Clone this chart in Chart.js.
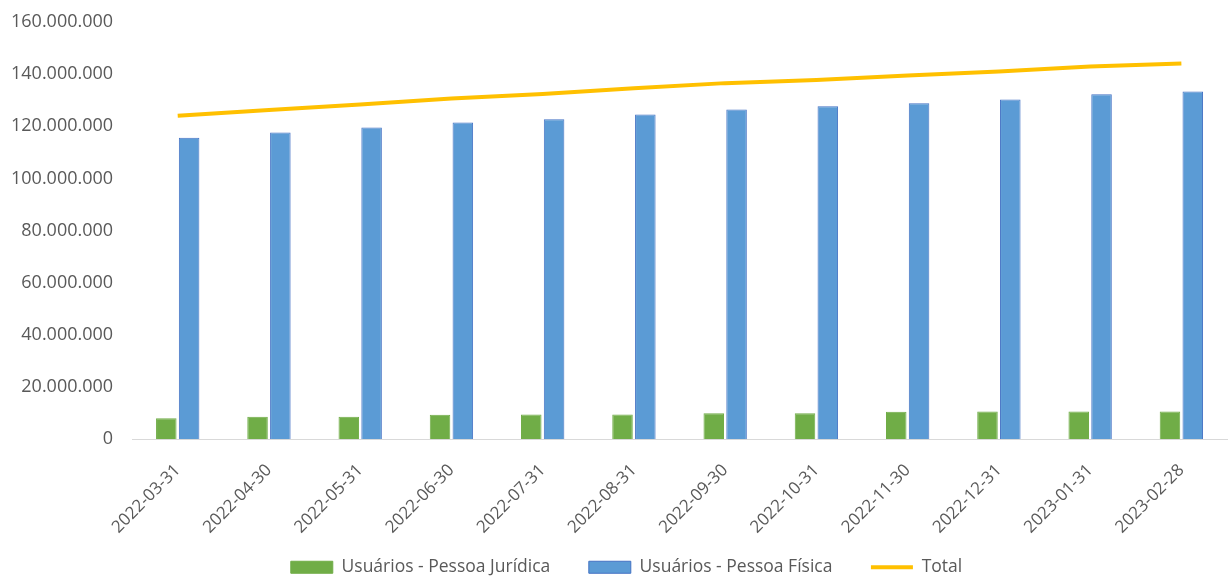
<!DOCTYPE html>
<html lang="pt-BR">
<head>
<meta charset="utf-8">
<title>Usuários</title>
<script src="https://cdn.jsdelivr.net/npm/chart.js@4.4.1/dist/chart.umd.min.js"></script>
<style>
  html, body { margin: 0; padding: 0; background: #fff; }
  #wrap { width: 1229px; height: 582px; position: relative; }
</style>
</head>
<body>
<div id="wrap"><canvas id="chart"></canvas></div>
<script>
// Monthly user counts
const months = [
  '2022-03-31', '2022-04-30', '2022-05-31', '2022-06-30', '2022-07-31', '2022-08-31',
  '2022-09-30', '2022-10-31', '2022-11-30', '2022-12-31', '2023-01-31', '2023-02-28',
];
const pessoaJuridica = [
  8100000, 8700000, 8700000, 9400000, 9500000, 9500000,
  10000000, 10000000, 10600000, 10700000, 10700000, 10700000,
];
const pessoaFisica = [
  115600000, 117600000, 119500000, 121400000, 122700000, 124500000,
  126400000, 127600000, 128800000, 130200000, 132200000, 133300000,
];
const total = [
  124000000, 126200000, 128300000, 130600000, 132300000, 134500000,
  136500000, 137700000, 139400000, 141000000, 142900000, 144000000,
];
const yTicks = [0, 20000000, 40000000, 60000000, 80000000, 100000000, 120000000, 140000000, 160000000];

const FONT = "'Open Sans', 'Liberation Sans', sans-serif";
const GREY = '#595959';

// 160000000 -> "160.000.000"
function fmtBR(v) {
  return String(Math.round(v)).replace(/\B(?=(\d{3})+(?!\d))/g, '.');
}

// nudge the centred legend row a little to the right, like the original
const legendShift = {
  id: 'legendShift',
  afterLayout(chart) {
    if (chart.legend) chart.legend.left += 26;
  },
};

new Chart(document.getElementById('chart'), {
  data: {
    labels: months,
    datasets: [
      {
        type: 'bar',
        label: 'Usuários - Pessoa Jurídica',
        data: pessoaJuridica,
        backgroundColor: '#70ad47',
        borderColor: '#70ad47',
        borderWidth: 1,
        order: 1,
      },
      {
        type: 'bar',
        label: 'Usuários - Pessoa Física',
        data: pessoaFisica,
        backgroundColor: '#5b9bd5',
        borderColor: '#4472c4',
        borderWidth: 1,
        order: 1,
      },
      {
        type: 'line',
        label: 'Total',
        data: total,
        borderColor: '#ffc000',
        backgroundColor: '#ffc000',
        borderWidth: 4,
        pointRadius: 0,
        tension: 0,
        order: 0,
      },
    ],
  },
  plugins: [legendShift],
  options: {
    responsive: true,
    maintainAspectRatio: false,
    animation: false,
    datasets: {
      bar: { categoryPercentage: 0.5, barPercentage: 0.9 },
    },
    // negative bottom padding pushes the legend row down next to the canvas edge
    layout: { padding: { top: 11, left: 0, right: 2, bottom: -4 } },
    plugins: {
      tooltip: { enabled: false },
      legend: {
        position: 'bottom',
        labels: {
          color: GREY,
          font: { family: FONT, size: 17.5 },
          usePointStyle: true,
          pointStyleWidth: 42,
          boxHeight: 12,
          padding: 21,
          sort: (a, b) => a.datasetIndex - b.datasetIndex,
          generateLabels(chart) {
            const items = Chart.defaults.plugins.legend.labels.generateLabels(chart);
            // en-spaces after the first two entries widen the gap between items
            return items.map(it => ({
              ...it,
              text: it.datasetIndex < 2 ? it.text + '\u2002\u2002' : it.text,
              pointStyle: it.datasetIndex === 2 ? 'line' : 'rect',
            }));
          },
        },
      },
    },
    scales: {
      x: {
        grid: { display: false, tickLength: 21 },
        border: { color: '#d9d9d9', width: 1 },
        ticks: {
          color: GREY,
          font: { family: FONT, size: 17 },
          maxRotation: 45,
          minRotation: 45,
          padding: 0,
        },
      },
      y: {
        min: 0,
        max: 160000000,
        grid: { display: false },
        border: { display: false },
        afterBuildTicks(axis) { axis.ticks = yTicks.map(v => ({ value: v })); },
        ticks: {
          color: GREY,
          font: { family: FONT, size: 18 },
          padding: 11,
          callback: v => fmtBR(v),
        },
      },
    },
  },
});
</script>
</body>
</html>
